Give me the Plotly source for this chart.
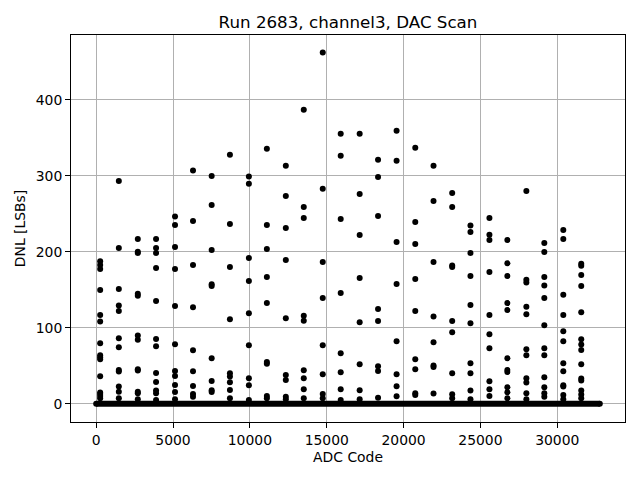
"""DNL scatter for a DAC scan, drawn with Plotly in the matplotlib look."""
import plotly.graph_objects as go

TITLE = "Run 2683, channel3, DAC Scan"

# full ADC code range; nearly every code sits at DNL ~ 0
CODE_RANGE = [0, 32767]
BASELINE_DNL = [0, 0]

# codes where the scan shows large DNL spikes (one column every ~1200 codes)
COL_CODES = [260, 1474, 2708, 3896, 5130, 6299, 7513, 8701, 9935, 11104,
             12338, 13506, 14740, 15909, 17143, 18338, 19545, 20760, 21948,
             23162, 24351, 25584, 26753, 27987, 29156, 30390, 31558]

# DNL values (LSBs), top to bottom
DNL_BY_COL = [
    [187.4, 182.6, 177.3, 149.6, 116.6, 108.2, 79.6, 63.8, 61.2, 58.5, 36.1, 14.5, 12.8, 10.1, 7],
    [293.4, 205, 150.9, 129.3, 121.9, 86.2, 74.4, 44.4, 42.2, 22.4, 15.8, 7],
    [216.9, 200.2, 198.4, 144.7, 142.1, 89.7, 84, 45.3, 43.6, 15.8, 13.6, 5.7],
    [216.9, 205, 198.4, 178.6, 135.1, 85.3, 75.7, 40.5, 28.6, 17.2, 13.6, 4.8],
    [246.4, 235.4, 206.3, 177.3, 128.5, 78.3, 43.1, 36.5, 24.6, 15.4, 5.7],
    [307.1, 240.6, 182.6, 127.1, 70.4, 42.7, 23.3, 12.8, 9.2],
    [300, 261.8, 202.4, 157.1, 154.9, 59.8, 29.9, 17.6, 15.4],
    [327.8, 236.7, 179.9, 111.3, 40, 35.6, 28.2, 18, 7],
    [299.2, 289.5, 191.8, 161.5, 119.2, 77, 33.4, 24.2, 4.8],
    [335.7, 235.4, 203.7, 166.7, 132.4, 55, 52.4, 10.1, 7],
    [313.2, 273.6, 231.4, 189.2, 112.6, 37.8, 31.2, 9.2, 5.7],
    [387.1, 259.1, 244.6, 115.7, 109.1, 44, 33.4, 18.9, 7],
    [462.4, 282.9, 186.5, 139, 77, 38.7, 12.8, 7],
    [355.5, 326.4, 243.3, 145.6, 66.4, 41.4, 18.9, 4.8],
    [355.5, 276.3, 222.2, 165.4, 107.3, 51.9, 17.6, 5.7],
    [321.2, 298.7, 247.2, 124.5, 108.7, 49.3, 43.1, 7.9],
    [359.4, 319.8, 212.9, 157.5, 82.3, 38.7, 22.9, 9.7],
    [337, 239.3, 210.3, 164.1, 121.9, 58.5, 45.3, 13.6, 11.4],
    [313.2, 267, 186.5, 114.8, 81, 50.2, 48.4, 13.2],
    [277.6, 259.1, 182.1, 179.9, 108.7, 94.1, 40, 12.3, 7],
    [234.5, 226.1, 198.4, 168.1, 129.8, 106, 53.2, 40, 17.2, 5.7],
    [244.6, 222.6, 215.6, 173.3, 116.6, 91.5, 73, 29.5, 18.9, 10.1],
    [215.6, 184.8, 168.1, 132.4, 123.2, 59.8, 44.4, 41.8, 21.6, 15, 7],
    [280.2, 163.2, 159.7, 127.6, 117.9, 71.7, 63.8, 33.4, 27.7, 13.6, 5.7],
    [211.6, 199.7, 166.7, 155.7, 139, 103.4, 73, 63.8, 34.8, 21.6, 13.6, 9.2],
    [228.8, 216.9, 143.4, 116.6, 95.5, 82.3, 53.2, 42.7, 24.2, 22.4, 11.4, 5.7],
    [184.3, 181.7, 169.4, 154.9, 120.5, 84.9, 77.9, 70.8, 51.9, 33, 30.4, 17.2, 11.9, 7],
]

X_TICKS = [0, 5000, 10000, 15000, 20000, 25000, 30000]
Y_TICKS = [0, 100, 200, 300, 400]

# flatten the spike columns into plain x / y lists
spike_x = []
spike_y = []
for code, vals in zip(COL_CODES, DNL_BY_COL):
    spike_x += [code] * len(vals)
    spike_y += vals

FONT = "DejaVu Sans"
GRID = "#b0b0b0"

fig = go.Figure()
# the dense run of codes with DNL ~ 0 shows up as a thick black band
fig.add_trace(go.Scatter(
    x=CODE_RANGE, y=BASELINE_DNL,
    mode="lines+markers",
    line=dict(color="black", width=6),
    marker=dict(color="black", size=6),
    hoverinfo="skip",
))
fig.add_trace(go.Scatter(
    x=spike_x, y=spike_y,
    mode="markers",
    marker=dict(color="black", size=6, line=dict(width=0)),
    hovertemplate="code %{x}<br>DNL %{y:.1f}<extra></extra>",
))

axis_common = dict(
    showline=True, linecolor="black", linewidth=1, mirror=True,
    ticks="outside", ticklen=5, tickwidth=1, tickcolor="black",
    showgrid=True, gridcolor=GRID, gridwidth=1,
    zeroline=False, automargin=False,
    tickfont=dict(family=FONT, size=13.9, color="black"),
)

fig.update_layout(
    width=640, height=480,
    paper_bgcolor="white", plot_bgcolor="white",
    showlegend=False,
    margin=dict(l=71, r=15, t=35, b=58),
    title=dict(
        text=TITLE, x=0.5, xref="paper", xanchor="center",
        y=1 - 22 / 480, yref="container", yanchor="middle",
        font=dict(family=FONT, size=16.7, color="black"),
    ),
    xaxis=dict(
        axis_common, range=[-1638, 34405],
        tickvals=X_TICKS, ticktext=[str(t) for t in X_TICKS],
        title=dict(text="ADC Code", font=dict(family=FONT, size=13.9, color="black"), standoff=5),
    ),
    yaxis=dict(
        axis_common, range=[-24.2, 485.6],
        tickvals=Y_TICKS, ticktext=[str(t) for t in Y_TICKS],
        title=dict(text="DNL [LSBs]", font=dict(family=FONT, size=13.9, color="black"), standoff=6),
    ),
)

# browser default body margin would push the figure 8px off
fig.write_html(
    "out.html",
    config={"displayModeBar": False},
    post_script="document.body.style.margin='0';",
)
